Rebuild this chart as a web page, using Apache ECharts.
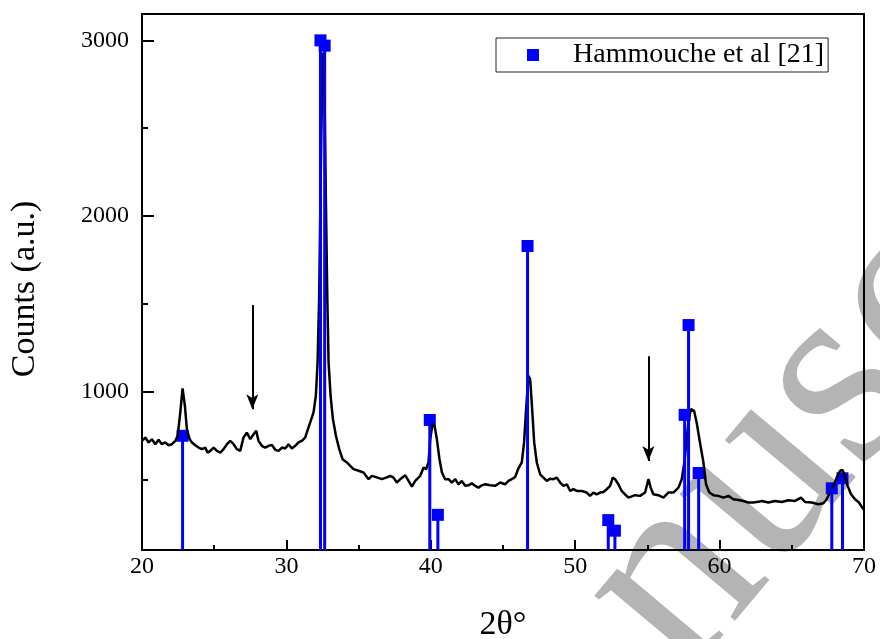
<!DOCTYPE html>
<html><head><meta charset="utf-8">
<script src="https://cdn.jsdelivr.net/npm/echarts@6/dist/echarts.min.js"></script>
<style>html,body{margin:0;padding:0;background:#fff}#c{width:880px;height:639px}</style>
</head><body><div id="c"></div>
<script>
// measured XRD pattern (2θ, counts)
const twoTheta = [20.00,20.23,20.46,20.69,20.92,21.15,21.38,21.61,21.84,22.07,22.31,22.47,22.65,22.81,22.97,23.11,23.30,23.46,23.69,23.92,24.15,24.38,24.54,24.73,24.96,25.19,25.42,25.65,25.88,26.11,26.34,26.57,26.80,27.03,27.26,27.50,27.73,27.91,28.07,28.30,28.53,28.77,29.00,29.23,29.46,29.69,29.92,30.15,30.38,30.61,30.84,31.07,31.30,31.49,31.65,31.88,32.04,32.16,32.27,32.36,32.46,32.56,32.64,32.73,32.83,32.92,33.06,33.22,33.43,33.66,33.89,34.19,34.42,34.65,35.00,35.34,35.69,35.92,36.26,36.61,36.96,37.19,37.42,37.65,37.88,38.23,38.46,38.69,38.92,39.27,39.50,39.68,39.84,39.96,40.12,40.26,40.42,40.60,40.77,40.99,41.23,41.46,41.69,41.92,42.15,42.38,42.61,42.84,43.07,43.30,43.53,43.77,44.11,44.46,44.80,45.15,45.38,45.61,45.84,46.07,46.30,46.46,46.60,46.76,46.88,46.99,47.16,47.34,47.57,47.80,48.03,48.26,48.49,48.72,48.96,49.19,49.42,49.65,49.88,50.11,50.46,50.80,51.03,51.26,51.49,51.72,51.95,52.19,52.42,52.60,52.76,52.99,53.22,53.45,53.69,53.80,54.15,54.49,54.84,55.07,55.23,55.41,55.76,56.11,56.45,56.80,57.15,57.38,57.56,57.72,57.86,58.02,58.23,58.41,58.64,58.88,59.06,59.29,59.57,59.91,60.26,60.61,60.95,61.30,61.64,61.99,62.34,62.68,62.92,63.38,63.84,64.30,64.76,65.22,65.64,65.92,66.38,66.84,67.19,67.41,67.65,67.88,68.11,68.34,68.50,68.68,68.87,69.10,69.38,69.65,69.88,70.00];
const counts = [721,740,712,730,702,727,702,712,696,702,721,750,882,1020,920,787,731,712,696,683,674,683,654,664,683,664,654,674,702,721,702,674,664,740,768,731,759,778,721,693,683,693,697,670,664,683,678,702,678,693,712,721,740,788,826,883,978,1168,1547,2117,2687,2930,2687,2117,1547,1168,978,845,750,674,617,598,579,560,551,541,503,522,513,503,513,522,512,484,503,525,493,461,493,522,569,560,598,731,816,807,731,617,541,503,503,484,503,474,493,465,468,480,465,455,468,474,468,465,484,474,493,503,515,565,598,712,902,1091,1072,939,712,598,531,512,493,506,503,512,484,465,474,436,446,436,436,427,408,427,417,427,430,446,465,512,503,474,436,417,398,408,412,408,427,503,455,417,412,398,427,427,455,503,598,731,845,902,892,826,712,598,474,427,412,408,398,408,389,385,379,370,370,374,379,370,379,373,383,379,398,373,370,360,366,389,427,465,512,550,556,522,465,417,389,370,341,330];
// reference lines: Hammouche et al [21]
const refTheta = [22.81,32.36,32.65,39.93,40.49,46.70,52.29,52.75,57.58,57.85,58.55,67.77,68.51];
const refCounts = [750,3000,2970,840,300,1830,270,210,869,1380,538,451,508];
// axes
const xTicks = [20,30,40,50,60,70];
const yTicks = [1000,2000,3000];
const yMinorTicks = [500,1500,2500];
// arrows marking extra reflections
const arrowTheta = [27.64,55.07];
const arrowTop = [1494,1202];
const arrowTip = [901,607];

const FONT = 'Liberation Serif';
const linePts = twoTheta.map((t,i)=>[t,counts[i]]);
const refPts = refTheta.map((t,i)=>[t,refCounts[i]]);
const arrows = arrowTheta.map((t,i)=>[{coord:[t,arrowTop[i]]},{coord:[t,arrowTip[i]]}]);
const plain = v => String(v);

const chart = echarts.init(document.getElementById('c'), null, {renderer:'canvas'});
chart.setOption({
  animation:false,
  backgroundColor:'#fff',
  grid:{left:142,top:14,width:722,height:536,show:true,borderColor:'#000',borderWidth:2,
    containLabel:false,outerBoundsMode:'none'},
  legend:{
    data:['Hammouche et al [21]'],
    left:496, top:38,
    padding:[3,4,3,31],
    itemWidth:12,itemHeight:12,icon:'rect',
    borderColor:'#222',borderWidth:1,
    textStyle:{fontFamily:FONT,fontSize:28,color:'#000',padding:[0,0,0,29],lineHeight:28}
  },
  xAxis:{
    type:'value',min:xTicks[0],max:xTicks[xTicks.length-1],interval:10,
    name:'2θ°',nameLocation:'middle',nameGap:58,
    nameTextStyle:{fontFamily:FONT,fontSize:34,color:'#000'},
    axisLine:{show:true,lineStyle:{color:'#000',width:2}},
    axisTick:{show:true,inside:true,length:10,lineStyle:{color:'#000',width:2}},
    minorTick:{show:true,splitNumber:2,length:5,lineStyle:{color:'#000',width:2}},
    axisLabel:{fontFamily:FONT,fontSize:24,color:'#000',margin:5,formatter:plain},
    splitLine:{show:false}
  },
  yAxis:[{
    type:'value',min:100,max:3150,
    name:'Counts (a.u.)',nameLocation:'middle',nameGap:100,nameRotate:90,
    nameTextStyle:{fontFamily:FONT,fontSize:34,color:'#000',padding:[0,14,0,0]},
    axisLine:{show:true,lineStyle:{color:'#000',width:2}},
    axisTick:{show:true,inside:true,length:12,customValues:yTicks,lineStyle:{color:'#000',width:2}},
    axisLabel:{fontFamily:FONT,fontSize:24,color:'#000',margin:13,customValues:yTicks,formatter:plain},
    splitLine:{show:false}
  },{
    type:'value',min:100,max:3150,position:'left',
    axisLine:{show:false},
    axisTick:{show:true,inside:true,length:6,customValues:yMinorTicks,lineStyle:{color:'#000',width:2}},
    axisLabel:{show:false},
    splitLine:{show:false}
  }],
  graphic:[{
    type:'text', z:-10, silent:true,
    x:790, y:445, rotation:50*Math.PI/180,
    style:{text:'nusc',font:'270px "Liberation Serif"',fill:'#b4b4b4',align:'center',verticalAlign:'middle'}
  }],
  series:[
    {name:'Hammouche et al [21]',type:'scatter',data:refPts,symbol:'rect',symbolSize:12,
      itemStyle:{color:'#0000ff',opacity:1},z:2},
    {name:'XRD',type:'line',data:linePts,showSymbol:false,symbol:'none',
      lineStyle:{color:'#000',width:2.5},z:3,
      markLine:{silent:true,symbol:['none','arrow'],symbolSize:[9,15],
        label:{show:false},lineStyle:{color:'#000',width:2,type:'solid'},data:arrows}},
    {name:'stems',type:'bar',data:refPts,barWidth:3,itemStyle:{color:'#0000ff'},z:4,clip:true}
  ]
});
</script></body></html>
